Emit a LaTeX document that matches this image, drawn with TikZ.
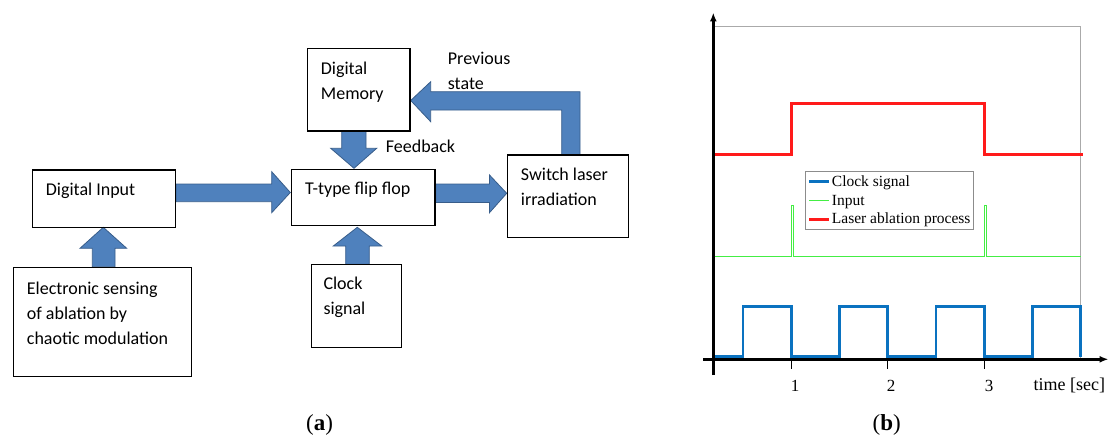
\documentclass[tikz,border=0pt]{standalone}
\usepackage{fontspec}
\setmainfont{Liberation Serif}
\newfontfamily\carlito{Carlito}
\usetikzlibrary{arrows.meta}
\definecolor{arrfill}{HTML}{4F81BD}
\definecolor{arrline}{HTML}{385D8A}
\definecolor{clkc}{HTML}{0A72C0}
\definecolor{inpc}{HTML}{44EE44}
\definecolor{lasc}{HTML}{FF1A1A}
\definecolor{framec}{HTML}{AAAAAA}
\definecolor{legc}{HTML}{8C8C8C}
\begin{document}
\begin{tikzpicture}[x=1pt,y=-1pt,
  box/.style={draw=black, line width=1.2pt, inner sep=0pt, outer sep=0pt, anchor=north west},
  lbl/.style={font=\carlito\fontsize{18}{25}\selectfont, anchor=base west, inner sep=0pt, align=left},
  blk/.style={fill=arrfill, draw=arrline, line width=0.8pt, line join=miter},
  axisline/.style={line width=2.6pt, -{Latex[length=9pt,width=7pt]}},
  tickline/.style={line width=1.4pt},
  ticklbl/.style={font=\fontsize{17}{20}\selectfont, anchor=base, inner sep=0pt},
  legtxt/.style={font=\fontsize{15.5}{18}\selectfont, anchor=base west, inner sep=0pt},
  captxt/.style={font=\fontsize{23}{26}\selectfont, anchor=base, inner sep=0pt},
  clkline/.style={draw=clkc, line width=2.7pt, line join=miter},
  inpline/.style={draw=inpc, line width=1pt},
  lasline/.style={draw=lasc, line width=3pt, line join=miter}]
\useasboundingbox (0,0) rectangle (1110,436);

% ---------------- panel (a) ----------------
% block arrows
\fill[blk] (176,184) -- (271.7,184) -- (271.7,171.7) -- (290.3,192.5) -- (271.7,212.7) -- (271.7,201.7) -- (176,201.7) -- cycle;
\fill[blk] (435.7,184) -- (489.5,184) -- (489.5,175) -- (506.7,193.3) -- (489.5,212.7) -- (489.5,202.5) -- (435.7,202.5) -- cycle;
\fill[blk] (341.7,131) -- (366,131) -- (366,148.3) -- (376.7,148.3) -- (354,168.3) -- (330.7,148.3) -- (341.7,148.3) -- cycle;
\fill[blk] (345.7,264.3) -- (369.3,264.3) -- (369.3,246) -- (381.7,246) -- (357.3,227.3) -- (333.3,246) -- (345.7,246) -- cycle;
\fill[blk] (92.3,266.7) -- (115,266.7) -- (115,248.3) -- (126.7,248.3) -- (103.3,227.3) -- (80,248.3) -- (92.3,248.3) -- cycle;
\fill[blk] (561.7,155) -- (561.7,110) -- (430.7,110) -- (430.7,121.7) -- (410.7,100.5) -- (430.7,81.7) -- (430.7,91.7) -- (580,91.7) -- (580,155) -- cycle;

% boxes
\node[box, minimum width=102.7pt, minimum height=82.7pt] (mem) at (307.3,48.3) {};
\node[box, minimum width=143.4pt, minimum height=57.3pt] (din) at (32.4,170) {};
\node[box, minimum width=143.2pt, minimum height=56.4pt] (tff) at (291.8,169.3) {};
\node[box, minimum width=121pt, minimum height=82.4pt] (sw) at (507.3,155) {};
\node[box, minimum width=178pt, minimum height=109.4pt] (ele) at (13.4,267.3) {};
\node[box, minimum width=90.1pt, minimum height=83.4pt] (clk) at (311.2,264.3) {};

% texts (base anchor = baseline of last line)
\node[lbl] (tmem) at (320.7,99.5) {Digital\\Memory};
\node[lbl] (tdin) at (45.7,195) {Digital Input};
\node[lbl] (ttff) at (305,194) {T-type flip flop};
\node[lbl] (tsw) at (520.7,205) {Switch laser\\irradiation};
\node[lbl] (tele) at (26.7,344) {Electronic sensing\\of ablation by\\chaotic modulation};
\node[lbl] (tclk) at (323.3,314.5) {Clock\\signal};
\node[lbl] (tfb) at (385.7,152.7) {Feedback};
\node[lbl] (tprev) at (447.7,89) {Previous\\state};

\node[captxt] (capa) at (319.5,430) {(\textbf{a})};

% ---------------- panel (b) ----------------
\coordinate (o) at (713.3,359.3);
\draw[framec, line width=0.9pt] (713.3,26) -- (1080.7,26) -- (1080.7,359.3);

% signals
\draw[lasline] (715,154) -- (791.3,154) -- (791.3,103.3) -- (984.3,103.3) -- (984.3,154) -- (1082.7,154);
\draw[inpline] (715,256) -- (791.3,256) -- (791.3,205) -- (793.3,205) -- (793.3,256) -- (984.7,256) -- (984.7,205) -- (986.7,205) -- (986.7,256) -- (1080.7,256);
\draw[clkline] (715,356.7) -- (743.1,356.7) -- (743.1,306.7) -- (791.3,306.7) -- (791.3,356.7)
  -- (839.5,356.7) -- (839.5,306.7) -- (887.8,306.7) -- (887.8,356.7)
  -- (936.1,356.7) -- (936.1,306.7) -- (984.3,306.7) -- (984.3,356.7)
  -- (1032.6,356.7) -- (1032.6,306.7) -- (1080.8,306.7) -- (1080.8,356.7);

% axes
\coordinate (ytop) at (713.3,12.5);
\coordinate (ybot) at (713.3,375);
\coordinate (xleft) at (703.3,359.3);
\coordinate (xright) at (1108.5,359.3);
\draw[axisline] (ybot) -- (ytop);
\draw[axisline] (xleft) -- (xright);

% ticks
\draw[tickline] (791.3,359.3) -- (791.3,369.3);
\draw[tickline] (887.7,359.3) -- (887.7,369.3);
\draw[tickline] (984.3,359.3) -- (984.3,369.3);
\node[ticklbl] (l1) at (795,391.7) {1};
\node[ticklbl] (l2) at (891,391.7) {2};
\node[ticklbl] (l3) at (989,391.7) {3};
\node[ticklbl, anchor=base west, font=\fontsize{18}{20}\selectfont] (tl) at (1033.3,390.7) {time [sec]};

% legend
\node[draw=legc, line width=0.8pt, fill=white, anchor=north west, minimum width=167.4pt, minimum height=58pt, inner sep=0pt] (leg) at (805.3,170.7) {};
\draw[clkc, line width=2.7pt] (809,181.7) -- (828.7,181.7);
\draw[inpc, line width=1pt] (809,200.3) -- (828.7,200.3);
\draw[lasc, line width=3pt] (809,219) -- (828.7,219);
\node[legtxt] (lg1) at (831.7,186.7) {Clock signal};
\node[legtxt] (lg2) at (831.7,205.3) {Input};
\node[legtxt] (lg3) at (831.7,223.8) {Laser ablation process};

\node[captxt] (capb) at (886.7,430) {(\textbf{b})};
\end{tikzpicture}
\end{document}
